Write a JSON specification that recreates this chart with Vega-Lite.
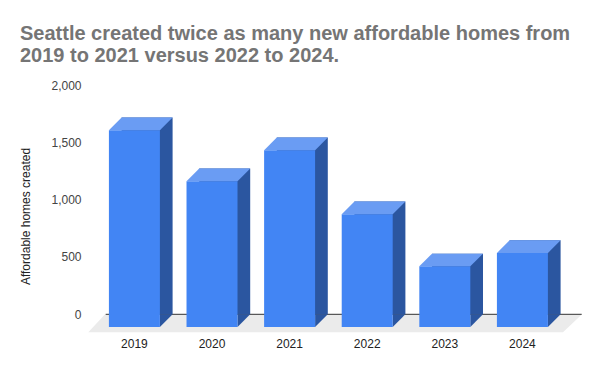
{
  "$schema": "https://vega.github.io/schema/vega-lite/v6.json",
  "width": 476,
  "height": 229.3,
  "autosize": "none",
  "padding": {"left": 105.7, "top": 85, "right": 18.3, "bottom": 56.7},
  "background": "white",
  "config": {"view": {"stroke": null}, "font": "Liberation Sans"},
  "title": {
    "text": ["Seattle created twice as many new affordable homes from", "2019 to 2021 versus 2022 to 2024."],
    "anchor": "start",
    "fontSize": 20,
    "fontWeight": "bold",
    "color": "#757575",
    "lineHeight": 22,
    "offset": 13,
    "dx": 0,
    "font": "Liberation Sans"
  },
  "data": {
    "values": [
      {"year": "2019", "value": 1716},
      {"year": "2020", "value": 1271},
      {"year": "2021", "value": 1541},
      {"year": "2022", "value": 983},
      {"year": "2023", "value": 529},
      {"year": "2024", "value": 645}
    ]
  },
  "layer": [
    {
      "transform": [{"filter": "datum.year == '2019'"}],
      "mark": {"type": "point", "shape": "M-16.6,0 L460.4,0 L441.4,18 L-33.3,18 Z", "size": 4, "filled": true, "color": "#ebebeb", "opacity": 1, "strokeWidth": 0},
      "encoding": {
        "x": {
          "field": "year", "type": "ordinal", "bandPosition": 0,
          "scale": {"type": "band", "paddingInner": 0.343, "paddingOuter": 0.2385, "align": 0.43},
          "axis": {"title": null, "labelAngle": 0, "domain": false, "ticks": false, "tickSize": 0, "grid": false, "labelPadding": 24, "labelOffset": -12.7, "labelFontSize": 12, "labelColor": "#222222", "labelFont": "Liberation Sans"}
        },
        "y": {
          "datum": 0, "type": "quantitative",
          "scale": {"domain": [0, 2000], "nice": false},
          "axis": {"title": "Affordable homes created", "values": [0, 500, 1000, 1500, 2000], "format": ",.0f", "domain": false, "ticks": false, "tickSize": 0, "labelPadding": 24.7, "labelFontSize": 12, "labelColor": "#444444", "labelFont": "Liberation Sans", "gridColor": "#cccccc", "titleFontSize": 12, "titleFontWeight": "normal", "titleColor": "#222222", "titleFont": "Liberation Sans", "titlePadding": 18, "titleY": 131}
        }
      }
    },
    {
      "transform": [{"filter": "datum.year == '2019'"}],
      "mark": {"type": "rule", "color": "#333333", "strokeWidth": 1},
      "encoding": {"y": {"datum": 0, "type": "quantitative"}}
    },
    {
      "mark": {"type": "bar", "color": "#2b56a0"},
      "encoding": {
        "x": {"field": "year", "type": "ordinal"},
        "y": {"field": "value", "type": "quantitative"}
      }
    },
    {
      "mark": {"type": "point", "shape": "M0,0 L-12.7,0 L-12.7,12.7 Z", "size": 4, "filled": true, "color": "#2b56a0", "opacity": 1, "strokeWidth": 0},
      "encoding": {
        "x": {"field": "year", "type": "ordinal", "bandPosition": 1},
        "y": {"datum": 0, "type": "quantitative"}
      }
    },
    {
      "mark": {"type": "bar", "color": "#4285f4", "xOffset": -12.7, "yOffset": 12.7, "y2Offset": 12.7},
      "encoding": {
        "x": {"field": "year", "type": "ordinal"},
        "y": {"field": "value", "type": "quantitative"}
      }
    },
    {
      "mark": {"type": "point", "shape": "M0,0 L51,0 L38.3,12.7 L-12.7,12.7 Z", "size": 4, "filled": true, "color": "#6a9cf3", "opacity": 1, "strokeWidth": 0},
      "encoding": {
        "x": {"field": "year", "type": "ordinal", "bandPosition": 0},
        "y": {"field": "value", "type": "quantitative"}
      }
    }
  ]
}
